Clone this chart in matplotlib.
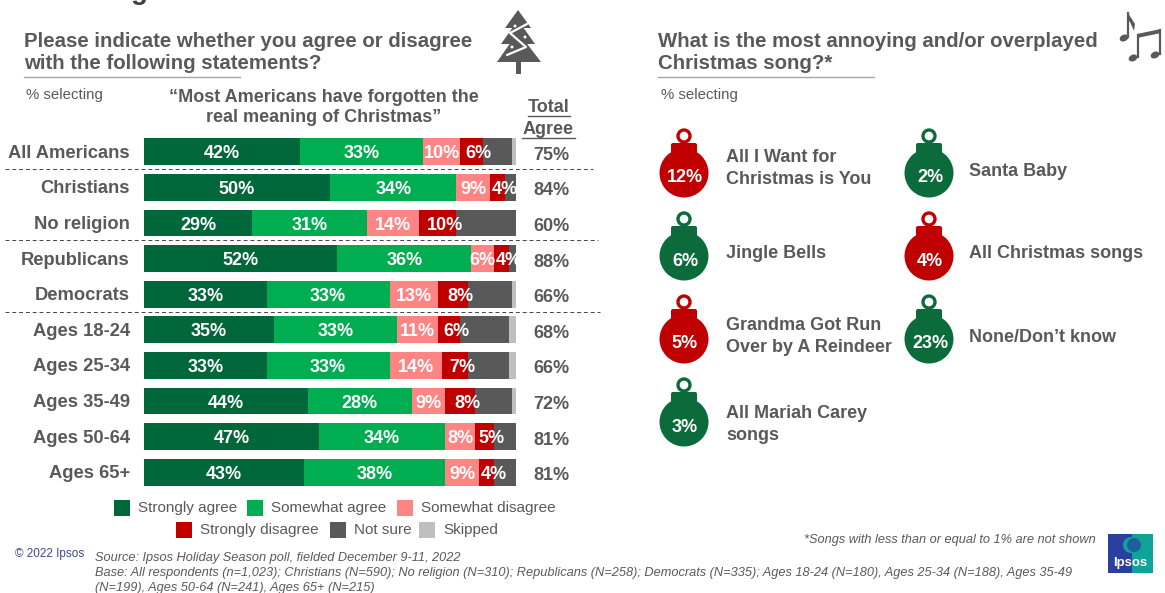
import matplotlib
matplotlib.use('Agg')
import matplotlib.pyplot as plt
from matplotlib.patches import Circle, Rectangle, Polygon, FancyBboxPatch, Ellipse

plt.rcParams['font.family'] = ['Liberation Sans', 'DejaVu Sans']

W, H = 1165, 593
GRAY = '#595959'

# data
groups = ['All Americans', 'Christians', 'No religion', 'Republicans', 'Democrats',
          'Ages 18-24', 'Ages 25-34', 'Ages 35-49', 'Ages 50-64', 'Ages 65+']
strongly_agree = [42, 50, 29, 52, 33, 35, 33, 44, 47, 43]
somewhat_agree = [33, 34, 31, 36, 33, 33, 33, 28, 34, 38]
somewhat_disagree = [10, 9, 14, 6, 13, 11, 14, 9, 8, 9]
strongly_disagree = [6, 4, 10, 4, 8, 6, 7, 8, 5, 4]
not_sure = [8, 3, 16, 2, 12, 13, 11, 10, 6, 6]
skipped = [1, 0, 0, 0, 1, 2, 2, 1, 0, 0]
total_agree = [75, 84, 60, 88, 66, 68, 66, 72, 81, 81]

series_names = ['Strongly agree', 'Somewhat agree', 'Somewhat disagree',
                'Strongly disagree', 'Not sure', 'Skipped']
series_vals = [strongly_agree, somewhat_agree, somewhat_disagree,
               strongly_disagree, not_sure, skipped]
series_cols = ['#00673A', '#00AD50', '#FF8585', '#C00000', GRAY, '#BFBFBF']
label_shift = [0, 0, 0, 2]  # the dark red labels sit a bit right of centre

songs = ['All I Want for\nChristmas is You', 'Jingle Bells',
         'Grandma Got Run\nOver by A Reindeer', 'All Mariah Carey\nsongs',
         'Santa Baby', 'All Christmas songs', 'None/Don\u2019t know']
song_pct = [12, 6, 5, 3, 2, 4, 23]
song_cols = ['#C00000', '#0B6B3A', '#C00000', '#0B6B3A', '#0B6B3A', '#C00000', '#0B6B3A']

fig = plt.figure(figsize=(W / 100, H / 100), dpi=100)

# overlay in pixel coords for all the slide furniture
bg = fig.add_axes([0, 0, 1, 1])
bg.set_xlim(0, W)
bg.set_ylim(H, 0)
bg.axis('off')


def t(x, y, s, size=13, bold=False, color=GRAY, ha='left', italic=False, **kw):
    return bg.text(x, y, s, fontsize=size, fontweight='bold' if bold else 'normal',
                   color=color, ha=ha, va='center',
                   fontstyle='italic' if italic else 'normal', **kw)


# bars
ax = fig.add_axes([144 / W, 1 - 490 / H, 372 / W, 356 / H])
ax.set_xlim(0, 100)
ax.set_ylim(9.5, -0.5)
ax.axis('off')
left = [0] * len(groups)
for i, vals in enumerate(series_vals):
    ax.barh(range(len(groups)), vals, left=left, height=0.75, color=series_cols[i])
    if i < 4:
        for j, v in enumerate(vals):
            ax.text(left[j] + v / 2 + label_shift[i], j + 0.06, f'{v}%', color='white',
                    fontsize=13, fontweight='bold', ha='center', va='center')
    left = [a + b for a, b in zip(left, vals)]

# row labels and totals, placed through the bar axes
for j, g in enumerate(groups):
    ax.annotate(g, (0, j + 0.04), xytext=(-14, 0), textcoords='offset pixels', ha='right', va='center',
                fontsize=13.2, fontweight='bold', color=GRAY)
    ax.annotate(f'{total_agree[j]}%', (100, j + 0.1), xytext=(35, 0), textcoords='offset pixels',
                ha='center', va='center', fontsize=13, fontweight='bold', color=GRAY)

# group separators
for y, x1 in [(169, 593), (240, 598), (311.5, 600)]:
    bg.plot([5, x1], [y, y], color='#444444', lw=0.7, ls=(0, (4, 3)))

# left heading
t(24, 41.5, 'Please indicate whether you agree or disagree', 14.7, True)
t(24, 63.5, 'with the following statements?', 14.7, True)
bg.plot([24, 240], [77, 77], color='#A6A6A6', lw=1)
t(26, 94.5, '% selecting', 10.8)
t(324, 98, '\u201cMost Americans have forgotten the', 13, True, ha='center')
t(324, 118, 'real meaning of Christmas\u201d', 13, True, ha='center')
t(549, 108, 'Total', 13, True, ha='center')
t(548.5, 130, 'Agree', 13, True, ha='center')
bg.plot([528, 570], [115.5, 115.5], color=GRAY, lw=1)
bg.plot([522, 575], [137.5, 137.5], color=GRAY, lw=1)

# sliver of the cut off slide title
t(131, -8, 'g', 20, True, color='#404040')

# legend
legend_pos = [(114, 508), (247, 508), (397, 508), (176, 530), (330, 530), (419, 530)]
for (x, y), name, col in zip(legend_pos, series_names, series_cols):
    bg.add_patch(Rectangle((x, y - 8), 16, 16, color=col, lw=0))
    t(x + 24, y, name, 11)

# tree icon
tree = [[(518, 10), (531, 28), (505, 28)],
        [(518, 20), (535, 44), (501, 44)],
        [(518, 32), (541, 62), (497, 62)]]
for p in tree:
    bg.add_patch(Polygon(p, color=GRAY, lw=0))
bg.add_patch(Rectangle((515.5, 60), 5, 14, color=GRAY, lw=0))
bg.plot([527, 510, 526, 507], [24, 33, 47, 55], color='white', lw=1.6, solid_capstyle='round')
for x, y in [(515, 26), (525, 37), (512, 47)]:
    bg.add_patch(Circle((x, y), 1.5, color='white', lw=0))

# right heading
t(658, 41.5, 'What is the most annoying and/or overplayed', 14.7, True)
t(658, 63.5, 'Christmas song?*', 14.7, True)
bg.plot([658, 874], [77, 77], color='#A6A6A6', lw=1)
t(661, 94.5, '% selecting', 10.8)

# music notes icon
bg.add_patch(Ellipse((1124, 38), 9, 6.5, angle=-25, color=GRAY, lw=0))
bg.plot([1128, 1128], [37, 13], color=GRAY, lw=1.6)
bg.add_patch(Polygon([(1128, 13), (1135, 24), (1134, 31), (1130, 22), (1128, 20)], color=GRAY, lw=0))
bg.add_patch(Ellipse((1133, 58), 9, 6.5, angle=-25, color=GRAY, lw=0))
bg.add_patch(Ellipse((1155, 55), 9, 6.5, angle=-25, color=GRAY, lw=0))
bg.plot([1138, 1138], [57, 35], color=GRAY, lw=1.6)
bg.plot([1160, 1160], [54, 30], color=GRAY, lw=1.6)
bg.add_patch(Polygon([(1137, 34), (1161, 29), (1161, 33), (1137, 38)], color=GRAY, lw=0))

# ornaments, filled column by column
col_x = [684, 929]
row_y = [173, 256, 339, 422]
text_x = [726, 969]
song_text_y = [157, 253, 325, 414, 172, 253, 338]
for k, (song, pct, col) in enumerate(zip(songs, song_pct, song_cols)):
    c = 0 if k < 4 else 1
    r = k if k < 4 else k - 4
    cx, cy = col_x[c], row_y[r]
    bg.add_patch(Circle((cx, cy), 24.5, color=col, lw=0))
    bg.add_patch(FancyBboxPatch((cx - 13, cy - 30), 26, 14, boxstyle='round,pad=0,rounding_size=2',
                                color=col, lw=0))
    bg.add_patch(Circle((cx, cy - 37), 6, fill=False, ec=col, lw=2.4))
    t(cx + 1, cy + 5, f'{pct}%', 13, True, color='white', ha='center')
    for n, line in enumerate(song.split('\n')):
        t(text_x[c], song_text_y[k] + 22 * n, line, 13, True)

# footer
t(15, 554, '\u00a9 2022 Ipsos', 8.5, color='#3B4A8C')
foot = ['Source: Ipsos Holiday Season poll, fielded December 9-11, 2022',
        'Base: All respondents (n=1,023); Christians (N=590); No religion (N=310); Republicans (N=258); '
        'Democrats (N=335); Ages 18-24 (N=180), Ages 25-34 (N=188), Ages 35-49',
        '(N=199), Ages 50-64 (N=241), Ages 65+ (N=215)']
for y, s in zip([558, 573, 587.5], foot):
    t(95, y, s, 9.2, italic=True)
t(1096, 540.5, '*Songs with less than or equal to 1% are not shown', 9.2, italic=True, ha='right')

# logo
bg.add_patch(Rectangle((1108, 534), 24, 39, color='#2B3F9E', lw=0))
bg.add_patch(Rectangle((1132, 534), 21, 39, color='#0FA39A', lw=0))
bg.add_patch(Circle((1131, 545), 8, color='#0FA39A', lw=0))
bg.add_patch(Circle((1134, 545), 7, color='#1F5F9E', lw=0))
t(1130, 563, 'Ipsos', 9.5, True, color='white', ha='center')

fig.savefig('out.png', dpi=100)
